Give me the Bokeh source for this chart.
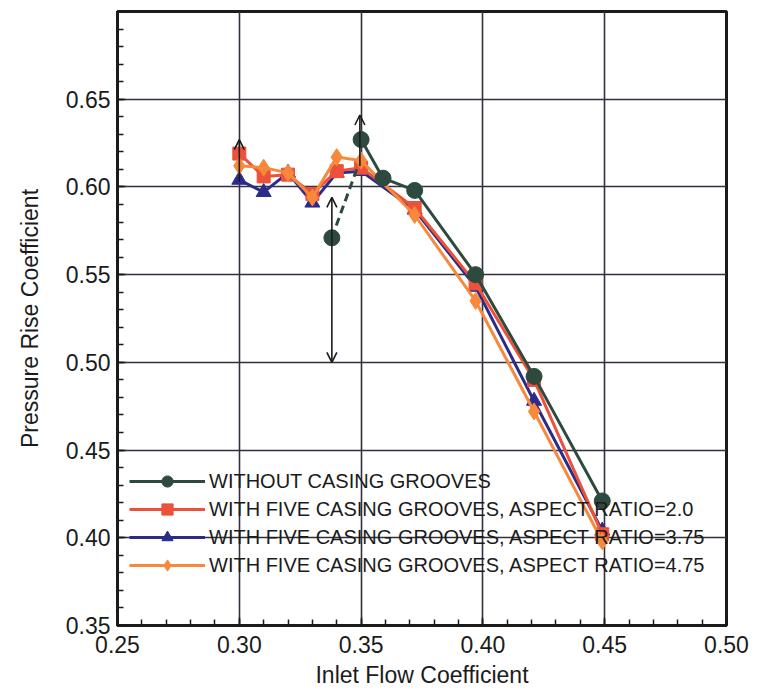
from bokeh.plotting import figure
from bokeh.models import (FixedTicker, Legend, LegendItem, Arrow, OpenHead, Range1d)
from bokeh.embed import file_html
from bokeh.resources import INLINE

# ---------------- data ----------------
x_tick_values = [0.25, 0.30, 0.35, 0.40, 0.45, 0.50]
x_tick_labels = ["0.25", "0.30", "0.35", "0.40", "0.45", "0.50"]
y_tick_values = [0.35, 0.40, 0.45, 0.50, 0.55, 0.60, 0.65]
y_tick_labels = ["0.35", "0.40", "0.45", "0.50", "0.55", "0.60", "0.65"]

# without casing grooves (smooth casing)
flow_smooth = [0.350, 0.359, 0.372, 0.397, 0.421, 0.449]
psi_smooth = [0.627, 0.605, 0.598, 0.550, 0.492, 0.421]
# smooth-casing stall point and dashed link
flow_stall = [0.338, 0.3487]
psi_stall = [0.571, 0.612]

# with five casing grooves
flow_grooved = [0.300, 0.310, 0.320, 0.330, 0.340, 0.350, 0.372, 0.397, 0.421, 0.449]
psi_ar20 = [0.619, 0.606, 0.607, 0.596, 0.609, 0.611, 0.588, 0.545, 0.490, 0.402]
psi_ar375 = [0.604, 0.597, 0.608, 0.591, 0.608, 0.609, 0.587, 0.543, 0.478, 0.404]
psi_ar475 = [0.612, 0.611, 0.608, 0.594, 0.617, 0.615, 0.584, 0.535, 0.472, 0.398]

# stall-margin arrows (annotations)
arrow_x = [0.300, 0.338, 0.3495]
arrow_y_from = [0.603, 0.500, 0.612]
arrow_y_to = [0.627, 0.594, 0.641]
arrow_both = [False, True, False]

labels = [
    "WITHOUT CASING GROOVES",
    "WITH FIVE CASING GROOVES, ASPECT RATIO=2.0",
    "WITH FIVE CASING GROOVES, ASPECT RATIO=3.75",
    "WITH FIVE CASING GROOVES, ASPECT RATIO=4.75",
]

GREEN = "#2e4a3e"
RED = "#ec513a"
BLUE = "#2b2b8c"
ORANGE = "#f7883c"
INK = "#1b1b1b"
FONT = "Liberation Sans"

p = figure(width=762, height=696, output_backend="svg", toolbar_location=None,
           x_range=Range1d(0.25, 0.50), y_range=Range1d(0.35, 0.70),
           min_border_left=117, min_border_right=36, min_border_top=11,
           min_border_bottom=71)
p.background_fill_color = "white"
p.border_fill_color = "white"
p.outline_line_color = INK
p.outline_line_width = 3

# axes
minor_x = [round(0.25 + 0.01 * i, 2) for i in range(26)]
minor_y = [round(0.35 + 0.01 * i, 2) for i in range(36)]
p.xaxis.ticker = FixedTicker(ticks=x_tick_values, minor_ticks=minor_x)
p.yaxis.ticker = FixedTicker(ticks=y_tick_values, minor_ticks=minor_y)
p.xaxis.major_label_overrides = dict(zip(x_tick_values, x_tick_labels))
p.yaxis.major_label_overrides = dict(zip(y_tick_values, y_tick_labels))
p.xaxis.axis_label = "Inlet Flow Coefficient"
p.yaxis.axis_label = "Pressure Rise Coefficient"
for ax in (p.xaxis, p.yaxis):
    ax.axis_line_color = INK
    ax.axis_line_width = 3
    ax.major_tick_in = 8
    ax.major_tick_out = 0
    ax.minor_tick_in = 6
    ax.minor_tick_out = 0
    ax.major_tick_line_color = INK
    ax.minor_tick_line_color = INK
    ax.major_tick_line_width = 1.5
    ax.minor_tick_line_width = 1.5
    ax.major_label_text_font = FONT
    ax.major_label_text_font_size = "23px"
    ax.major_label_text_color = INK
    ax.axis_label_text_font = FONT
    ax.axis_label_text_font_size = "23px"
    ax.axis_label_text_font_style = "normal"
    ax.axis_label_text_color = INK
p.yaxis.major_label_standoff = 7
p.yaxis.axis_label_standoff = 20
p.xaxis.major_label_standoff = 10
p.xaxis.axis_label_standoff = 6

p.xgrid.grid_line_color = "#30303e"
p.ygrid.grid_line_color = "#30303e"
p.xgrid.grid_line_width = 1.6
p.ygrid.grid_line_width = 1.6

# series
lw = 3
r_blue_l = p.line(flow_grooved, psi_ar375, line_color=BLUE, line_width=lw)
r_blue_m = p.scatter(flow_grooved, psi_ar375, marker="triangle", size=15,
                     fill_color=BLUE, line_color=BLUE)
r_red_l = p.line(flow_grooved, psi_ar20, line_color=RED, line_width=lw)
r_red_m = p.scatter(flow_grooved, psi_ar20, marker="square", size=13,
                    fill_color=RED, line_color=RED)
r_or_l = p.line(flow_grooved, psi_ar475, line_color=ORANGE, line_width=lw)
r_or_m = p.scatter(flow_grooved, psi_ar475, marker="diamond", size=17,
                   fill_color=ORANGE, line_color=ORANGE)
r_gr_l = p.line(flow_smooth, psi_smooth, line_color=GREEN, line_width=lw)
r_gr_m = p.scatter(flow_smooth, psi_smooth, marker="circle", size=16,
                   fill_color=GREEN, line_color=GREEN)
p.line(flow_stall, psi_stall, line_color=GREEN, line_width=3, line_dash="8 5")
p.scatter(flow_stall[:1], psi_stall[:1], marker="circle", size=16,
          fill_color=GREEN, line_color=GREEN)

# arrows
for xa, y0, y1, both in zip(arrow_x, arrow_y_from, arrow_y_to, arrow_both):
    p.add_layout(Arrow(
        x_start=xa, y_start=y0, x_end=xa, y_end=y1,
        line_color=INK, line_width=1.6,
        end=OpenHead(size=10, line_color=INK, line_width=1.6),
        start=OpenHead(size=10, line_color=INK, line_width=1.6) if both else None))

legend = Legend(items=[
    LegendItem(label=labels[0], renderers=[r_gr_l, r_gr_m]),
    LegendItem(label=labels[1], renderers=[r_red_l, r_red_m]),
    LegendItem(label=labels[2], renderers=[r_blue_l, r_blue_m]),
    LegendItem(label=labels[3], renderers=[r_or_l, r_or_m]),
], location=(12, 46), orientation="vertical")
legend.background_fill_alpha = 0
legend.border_line_alpha = 0
legend.padding = 0
legend.margin = 0
legend.spacing = 0
legend.glyph_width = 76
legend.glyph_height = 28
legend.label_height = 28
legend.label_standoff = 4
legend.label_text_font = FONT
legend.label_text_font_size = "20px"
legend.label_text_color = INK
p.add_layout(legend, "center")

open("out.html", "w").write(file_html(p, INLINE))
